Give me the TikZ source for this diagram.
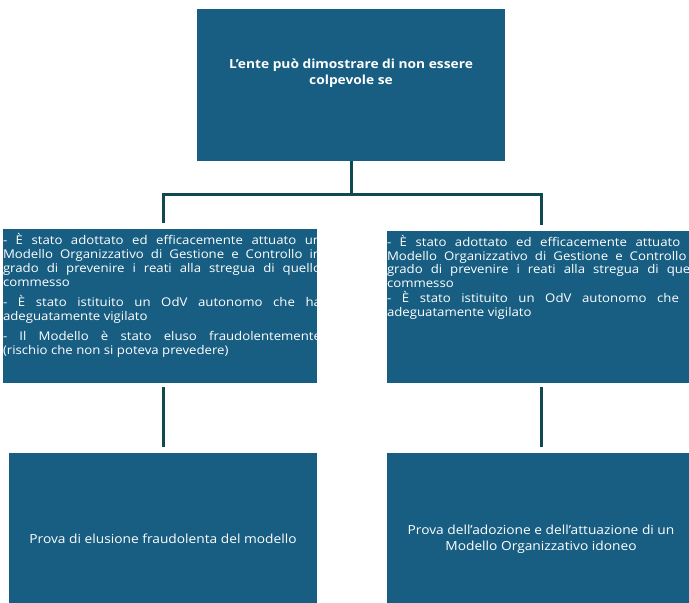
\documentclass[tikz,border=0pt]{standalone}
\usepackage{fontspec}
\setmainfont{Open Sans}[FakeStretch=1.1]
\usepackage{tikz}
\usetikzlibrary{positioning}
\definecolor{boxblue}{RGB}{23,94,130}
\definecolor{lineteal}{RGB}{16,74,80}

\begin{document}
\begin{tikzpicture}[x=1pt, y=-1pt,
        blok/.style={fill=boxblue, draw=none, inner sep=0pt},
        titel/.style={text=white, align=center, inner sep=0pt},
        tekst/.style={text=white, inner sep=0pt, text width=318pt, align=justify,
          anchor=north west, font=\fontsize{12}{14}\selectfont},
        link/.style={draw=lineteal, line width=3pt}]
        \clip (0,0) rectangle (689,603);
        % boxes
        \node[blok, minimum width=308pt, minimum height=152pt] (ente) at (351,85) {};
        \node[titel, font=\bfseries\fontsize{12.5}{16}\selectfont] (enteText)
        at ([yshift=12pt]ente.center) {L’ente può dimostrare di non essere\\colpevole se};
        \node[blok, minimum width=314pt, minimum height=154pt] (condA) at (160,306) {};
        \node[blok, minimum width=308pt, minimum height=152pt] (condB) at (541,307) {};
        \node[blok, minimum width=308pt, minimum height=172pt, text=white,
        font=\fontsize{12.5}{16.5}\selectfont] (provaA) at (163,539)
        {Prova di elusione fraudolenta del modello};
        \node[blok, minimum width=308pt, minimum height=172pt, text=white, align=center,
        font=\fontsize{12.5}{16.5}\selectfont] (provaB) at (541,539)
        {Prova dell’adozione e dell’attuazione di un\\Modello Organizzativo idoneo};
        % texts of the middle boxes
        \begin{scope}
        \clip (condA.north west) rectangle (condA.south east);
        \node[tekst] (condAText) at ([yshift=-4.5pt]condA.north west)
        {\setlength\parindent{0pt}\setlength\parskip{6pt}%
        - È stato adottato ed efficacemente attuato un\linebreak
        Modello Organizzativo di Gestione e Controllo in\linebreak
        grado di prevenire i reati alla stregua di quello\linebreak
        commesso\par
        - È stato istituito un OdV autonomo che ha\linebreak
        adeguatamente vigilato\par
        - Il Modello è stato eluso fraudolentemente\linebreak
        (rischio che non si poteva prevedere)};
        \end{scope}
        \begin{scope}
        \clip (condB.north west) rectangle (condB.south east);
        \node[tekst, font=\fontsize{12}{13.6}\selectfont] (condBText)
        at ([yshift=-4.5pt]condB.north west)
        {\setlength\parindent{0pt}\setlength\parskip{1.5pt}%
        - È stato adottato ed efficacemente attuato un\linebreak
        Modello Organizzativo di Gestione e Controllo in\linebreak
        grado di prevenire i reati alla stregua di quello\linebreak
        commesso\par
        - È stato istituito un OdV autonomo che ha\linebreak
        adeguatamente vigilato};
        \end{scope}
        % connectors
        \draw[link] (ente.south) -- ++(0,33) coordinate (bus)
        -| ([xshift=3pt]condA.north) [shorten >=6pt];
        \draw[link, shorten >=6pt] (bus) -| (condB.north);
        \draw[link, shorten <=4pt, shorten >=6pt] (condA.south -| provaA.north) -- (provaA.north);
        \draw[link, shorten <=4pt, shorten >=6pt] (condB.south) -- (provaB.north);
\end{tikzpicture}
\end{document}
